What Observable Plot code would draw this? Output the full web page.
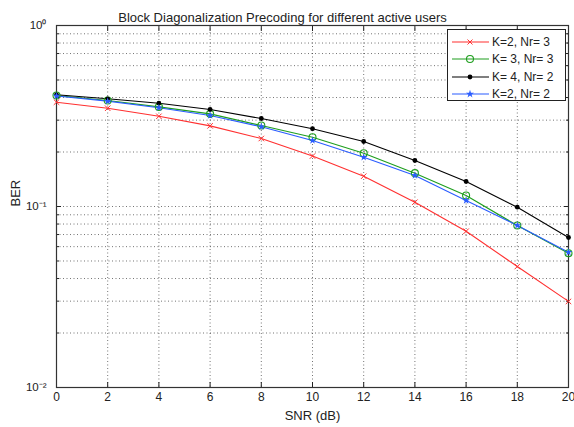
<!DOCTYPE html>
<html>
<head>
<meta charset="utf-8">
<script src="https://cdn.jsdelivr.net/npm/d3@7"></script>
<script src="https://cdn.jsdelivr.net/npm/@observablehq/plot@0.6"></script>
<style>
  html, body { margin: 0; padding: 0; background: #fff; }
  #wrap { position: relative; width: 574px; height: 427px; font-family: "Liberation Sans", Arial, sans-serif; }
  #legend { position: absolute; left: 447px; top: 29px; width: 119px; height: 72px; border: 1px solid #222; background: #fff; box-sizing: border-box; font-size: 12px; color: #222; }
  .row { position: absolute; left: 3px; height: 14px; display: flex; align-items: center; }
  .row svg { margin-right: 2px; }
</style>
</head>
<body>
<div id="wrap"><div id="chart"></div><div id="legend"></div></div>
<script>
const snr = [0, 2, 4, 6, 8, 10, 12, 14, 16, 18, 20];
const berK2Nr3 = [0.377, 0.349, 0.315, 0.279, 0.2375, 0.190, 0.147, 0.1056, 0.0730, 0.0466, 0.0299];
const berK3Nr3 = [0.4105, 0.385, 0.355, 0.325, 0.280, 0.2415, 0.197, 0.1528, 0.115, 0.0785, 0.0552];
const berK4Nr2 = [0.414, 0.3936, 0.372, 0.3434, 0.3063, 0.2688, 0.2286, 0.1795, 0.1374, 0.0991, 0.0674];
const berK2Nr2 = [0.408, 0.382, 0.351, 0.318, 0.2757, 0.2315, 0.1873, 0.1484, 0.108, 0.0785, 0.0559];
const seriesNames = ["K=2, Nr= 3", "K= 3, Nr= 3", "K= 4, Nr= 2", "K=2, Nr= 2"];
const seriesColors = ["#ff3030", "#1e9e1e", "#000000", "#2a5cff"];
const yMajor = [0.01, 0.1, 1];
const yMinor = [0.02,0.03,0.04,0.05,0.06,0.07,0.08,0.09,0.2,0.3,0.4,0.5,0.6,0.7,0.8,0.9];
const yLabels = {0.01: "10⁻²", 0.1: "10⁻¹", 1: "10⁰"};

const allSeries = [berK2Nr3, berK3Nr3, berK4Nr2, berK2Nr2];
const data = [];
allSeries.forEach((vals, i) => vals.forEach((v, j) => data.push({snr: snr[j], ber: v, s: seriesNames[i]})));
const bySeries = name => data.filter(d => d.s === name);

const color = {domain: seriesNames, range: seriesColors};
const gridStyle = {stroke: "#000", strokeOpacity: 0.55, strokeDasharray: "1,2.5", strokeWidth: 1};

const chart = Plot.plot({
  width: 574,
  height: 427,
  marginLeft: 56,
  marginRight: 6,
  marginTop: 25,
  marginBottom: 40,
  style: {fontFamily: "'Liberation Sans', Arial, sans-serif", fontSize: "12px", color: "#222", background: "#fff"},
  color,
  x: {domain: [0, 20]},
  y: {type: "log", domain: [0.01, 1]},
  marks: [
    Plot.gridX(snr.slice(1, -1), gridStyle),
    Plot.gridY(yMinor.concat([0.1]), gridStyle),
    Plot.axisX(snr, {anchor: "bottom", tickSize: 0, tickPadding: 5, fontSize: 12, label: null}),
    Plot.axisX(snr, {anchor: "bottom", tickSize: -5, text: null, label: null}),
    Plot.axisX(snr, {anchor: "top", tickSize: -5, text: null, label: null}),
    Plot.axisY(yMajor, {anchor: "left", tickSize: 0, tickPadding: 10, tickFormat: d => yLabels[d], fontSize: 11.5, label: null}),
    Plot.axisY(yMajor, {anchor: "left", tickSize: -5, text: null, label: null}),
    Plot.axisY(yMinor, {anchor: "left", tickSize: -3, text: null, label: null}),
    Plot.axisY(yMajor, {anchor: "right", tickSize: -5, text: null, label: null}),
    Plot.axisY(yMinor, {anchor: "right", tickSize: -3, text: null, label: null}),
    Plot.frame({stroke: "#333", strokeWidth: 1.2}),
    Plot.line(data, {x: "snr", y: "ber", stroke: "s", strokeWidth: 1.1}),
    Plot.dot(bySeries(seriesNames[0]), {x: "snr", y: "ber", symbol: "times", stroke: seriesColors[0], r: 2.6, strokeWidth: 1}),
    Plot.dot(bySeries(seriesNames[1]), {x: "snr", y: "ber", symbol: "circle", stroke: seriesColors[1], fill: "none", r: 3.5, strokeWidth: 1.1}),
    Plot.dot(bySeries(seriesNames[2]), {x: "snr", y: "ber", symbol: "circle", fill: seriesColors[2], stroke: null, r: 2.4}),
    Plot.dot(bySeries(seriesNames[3]), {x: "snr", y: "ber", symbol: "star", fill: seriesColors[3], stroke: null, r: 2.4}),
    Plot.text(["Block Diagonalization Precoding for different active users"], {frameAnchor: "top-left", dx: 226, dy: -13, textAnchor: "middle", fontSize: 13, fill: "#222"}),
    Plot.text(["SNR (dB)"], {frameAnchor: "bottom", dy: 32, fontSize: 13, fill: "#222"}),
    Plot.text(["BER"], {frameAnchor: "left", dx: -41, rotate: -90, fontSize: 13, fill: "#222"})
  ]
});
document.getElementById("chart").appendChild(chart);

// legend
const legend = document.getElementById("legend");
const markerSvg = i => {
  const c = seriesColors[i];
  let m = "";
  if (i === 0) m = `<path d="M16.5,-2.5L21.5,2.5M16.5,2.5L21.5,-2.5" stroke="${c}" stroke-width="1"/>`;
  if (i === 1) m = `<circle cx="19" cy="0" r="3.5" fill="none" stroke="${c}" stroke-width="1.1"/>`;
  if (i === 2) m = `<circle cx="19" cy="0" r="2.4" fill="${c}"/>`;
  if (i === 3) m = `<path transform="translate(19,0)" d="${d3.symbol(d3.symbolStar, 20)()}" fill="${c}"/>`;
  return `<svg width="39" height="14" viewBox="0 -7 39 14"><line x1="1" x2="38" y1="0" y2="0" stroke="${c}" stroke-width="1.1"/>${m}</svg>`;
};
seriesNames.forEach((name, i) => {
  const row = document.createElement("div");
  row.className = "row";
  row.style.top = (5 + i * 17.4) + "px";
  row.innerHTML = markerSvg(i) + `<span>${name}</span>`;
  legend.appendChild(row);
});
</script>
</body>
</html>
